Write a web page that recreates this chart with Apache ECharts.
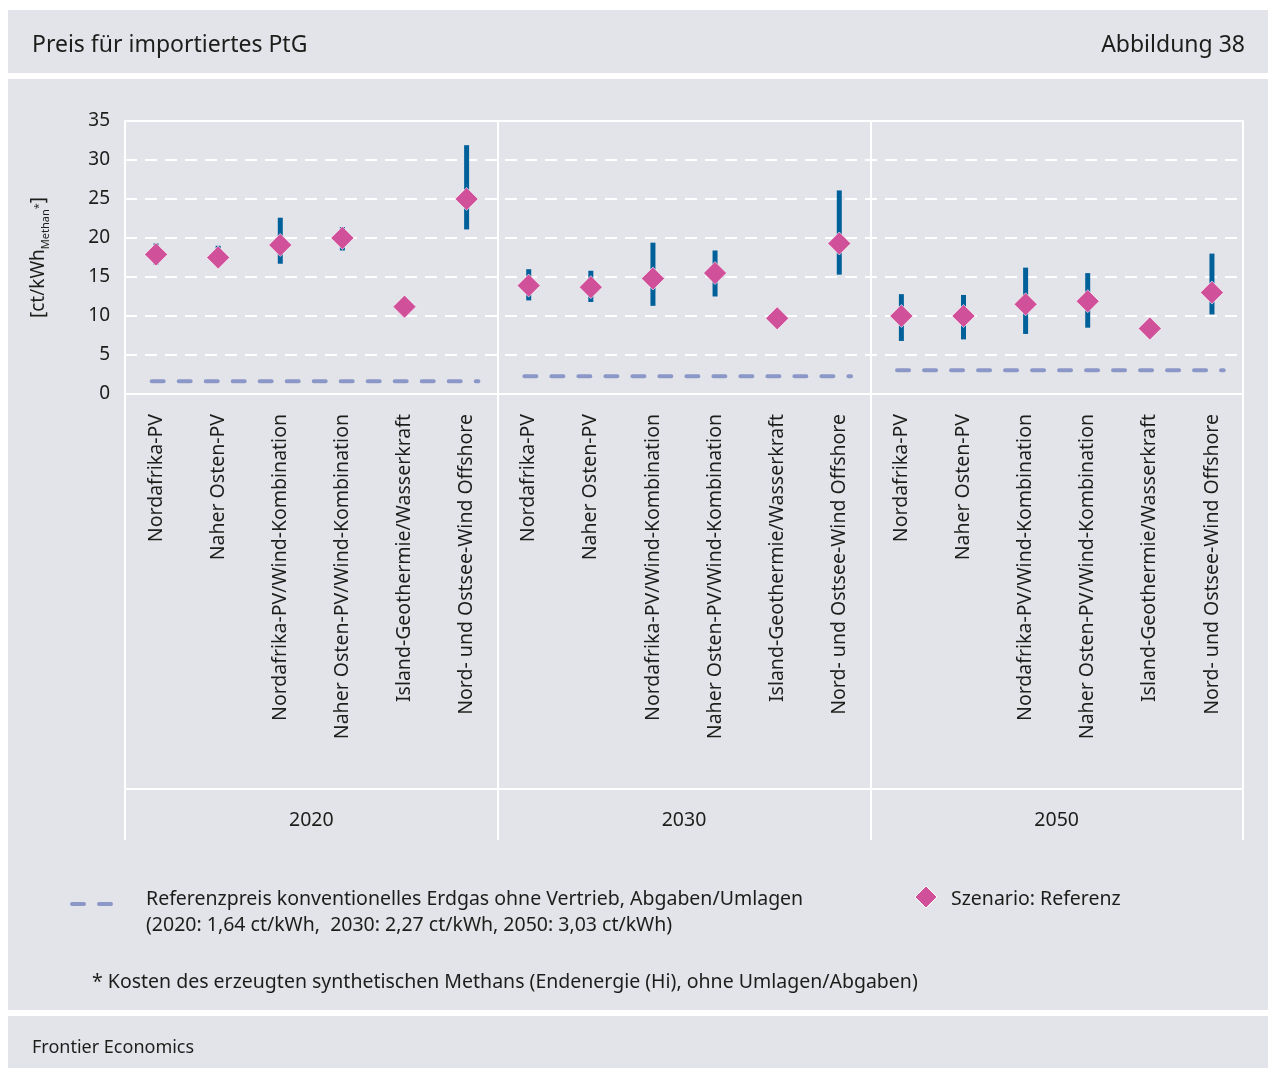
<!DOCTYPE html>
<html>
<head>
<meta charset="utf-8">
<script src="https://cdn.jsdelivr.net/npm/echarts@6/dist/echarts.min.js"></script>
<style>
  html, body { margin: 0; padding: 0; background: #ffffff; }
  #chart { width: 1269px; height: 1068px; }
</style>
</head>
<body>
<div id="chart"></div>
<script>
// Technologies (per year group) and years
const techs = [
  'Nordafrika-PV',
  'Naher Osten-PV',
  'Nordafrika-PV/Wind-Kombination',
  'Naher Osten-PV/Wind-Kombination',
  'Island-Geothermie/Wasserkraft',
  'Nord- und Ostsee-Wind Offshore'
];
const years = ['2020', '2030', '2050'];

// Scenario "Referenz" price [ct/kWh] and range (low / high)
const price2020 = [17.9, 17.5, 19.1, 20.0, 11.2, 25.0];
const low2020   = [16.6, 16.6, 16.7, 18.4, 11.2, 21.1];
const high2020  = [19.3, 19.0, 22.6, 21.4, 11.2, 31.9];

const price2030 = [13.9, 13.7, 14.8, 15.5, 9.7, 19.3];
const low2030   = [12.0, 11.8, 11.3, 12.5, 9.7, 15.3];
const high2030  = [16.0, 15.8, 19.4, 18.4, 9.7, 26.1];

const price2050 = [10.0, 10.0, 11.5, 11.9, 8.4, 13.0];
const low2050   = [6.8, 7.0, 7.7, 8.5, 8.4, 10.2];
const high2050  = [12.8, 12.7, 16.2, 15.5, 8.4, 18.0];

// Reference price of conventional natural gas per year
const refPrice = [1.64, 2.27, 3.03];

// y-axis ticks
const yMin = 0, yMax = 35, yStep = 5;

const FONT = 'Noto Sans';
const TXT = '#1d1d1b';
const PANEL = '#e3e4e9';

const prices = [price2020, price2030, price2050];
const lows = [low2020, low2030, low2050];
const highs = [high2020, high2030, high2050];

const categories = [];
const scatterData = [];
const rangeData = [];
years.forEach(function (y, g) {
  techs.forEach(function (t, i) {
    const idx = g * techs.length + i;
    categories.push(t);
    scatterData.push([idx, prices[g][i]]);
    rangeData.push([idx, lows[g][i], highs[g][i]]);
  });
});

const n = categories.length;
const refSeries = refPrice.map(function (v, g) {
  const base = g * techs.length;
  return {
    type: 'line',
    xAxisIndex: 2,
    yAxisIndex: 0,
    data: [[base + 0.43, v], [base + 5.69, v]],
    symbol: 'none',
    silent: true,
    z: 3,
    lineStyle: { color: '#8a97c7', width: 4, type: [12, 15], cap: 'round' }
  };
});

const chart = echarts.init(document.getElementById('chart'), null, { renderer: 'canvas' });

const option = {
  backgroundColor: '#ffffff',
  animation: false,
  textStyle: { fontFamily: FONT, color: TXT },
  graphic: [
    { type: 'rect', z: -10, shape: { x: 8, y: 10, width: 1260, height: 63 }, style: { fill: PANEL } },
    { type: 'rect', z: -10, shape: { x: 8, y: 79, width: 1260, height: 931 }, style: { fill: PANEL } },
    { type: 'rect', z: -10, shape: { x: 8, y: 1016, width: 1260, height: 52 }, style: { fill: PANEL } },
    { type: 'text', x: 32, y: 34, style: { text: 'Preis für importiertes PtG', font: '23px "Noto Sans"', fill: TXT } },
    { type: 'text', x: 1245, y: 34, style: { text: 'Abbildung 38', font: '23px "Noto Sans"', fill: TXT, align: 'right' } },
    // legend: reference price line
    { type: 'line', shape: { x1: 72, y1: 904, x2: 116, y2: 904 },
      style: { stroke: '#8a97c7', lineWidth: 4, lineDash: [12, 15], lineCap: 'round' } },
    { type: 'text', x: 146, y: 886, style: {
        text: 'Referenzpreis konventionelles Erdgas ohne Vertrieb, Abgaben/Umlagen\n(2020: 1,64 ct/kWh,  2030: 2,27 ct/kWh, 2050: 3,03 ct/kWh)',
        font: '19.5px "Noto Sans"', lineHeight: 26, fill: TXT } },
    // legend: scenario marker
    { type: 'polygon', shape: { points: [[926, 886], [937, 897], [926, 908], [915, 897]] },
      style: { fill: '#d0509a', stroke: '#ffffff', lineWidth: 1 } },
    { type: 'text', x: 951, y: 889, style: { text: 'Szenario: Referenz', font: '19.5px "Noto Sans"', fill: TXT } },
    { type: 'text', x: 92, y: 972, style: {
        text: '* Kosten des erzeugten synthetischen Methans (Endenergie (Hi), ohne Umlagen/Abgaben)',
        font: '19.5px "Noto Sans"', fill: TXT } },
    { type: 'text', x: 32, y: 1039, style: { text: 'Frontier Economics', font: '18px "Noto Sans"', fill: TXT } }
  ],
  grid: {
    left: 125, top: 121, width: 1118, height: 273,
    show: true, backgroundColor: 'transparent', borderColor: '#ffffff', borderWidth: 2
  },
  xAxis: [
    {
      type: 'category',
      data: categories,
      boundaryGap: true,
      axisLine: { show: true, lineStyle: { color: '#ffffff', width: 2 } },
      axisTick: {
        show: true, inside: false, length: 395,
        interval: function (idx) { return idx % techs.length === 0; },
        lineStyle: { color: '#ffffff', width: 2 }
      },
      axisLabel: {
        interval: 0, rotate: 90, margin: 20,
        fontFamily: FONT, fontSize: 19.5, color: TXT
      },
      splitLine: { show: false }
    },
    {
      type: 'category',
      data: years,
      position: 'bottom',
      offset: 395,
      boundaryGap: true,
      axisLine: { show: true, lineStyle: { color: '#ffffff', width: 2 } },
      axisTick: { show: true, length: 51, lineStyle: { color: '#ffffff', width: 2 } },
      axisLabel: { margin: 21, fontFamily: FONT, fontSize: 19.5, color: TXT },
      splitLine: { show: true, lineStyle: { color: '#ffffff', width: 2 } }
    },
    {
      type: 'value', min: 0, max: n, show: false
    }
  ],
  yAxis: [
    {
      type: 'value',
      min: yMin, max: yMax, interval: yStep,
      axisLine: { show: false },
      axisTick: { show: false },
      axisLabel: { margin: 15, fontFamily: FONT, fontSize: 19, color: TXT },
      splitLine: { show: true, lineStyle: { color: '#ffffff', width: 2, type: [12, 8] } },
      name: '{a|[ct/kWh}{s|Methan}{t|*}{a|]}',
      nameLocation: 'middle',
      nameRotate: 90,
      nameGap: 74,
      nameTextStyle: {
        rich: {
          a: { fontFamily: FONT, fontSize: 19, color: TXT, lineHeight: 24 },
          s: { fontFamily: FONT, fontSize: 11, color: TXT, verticalAlign: 'bottom', lineHeight: 11 },
          t: { fontFamily: FONT, fontSize: 11, color: TXT, verticalAlign: 'bottom', lineHeight: 11, padding: [0, 0, 7, 0] }
        }
      }
    }
  ],
  series: refSeries.concat([
    {
      type: 'custom',
      name: 'Bandbreite',
      xAxisIndex: 0,
      yAxisIndex: 0,
      z: 4,
      data: rangeData,
      encode: { x: 0, y: [1, 2] },
      renderItem: function (params, api) {
        const x = api.value(0);
        const lo = api.coord([x, api.value(1)]);
        const hi = api.coord([x, api.value(2)]);
        return {
          type: 'line',
          shape: { x1: lo[0], y1: lo[1], x2: hi[0], y2: hi[1] },
          style: { stroke: '#00609a', lineWidth: 5 }
        };
      }
    },
    {
      type: 'scatter',
      name: 'Szenario: Referenz',
      xAxisIndex: 0,
      yAxisIndex: 0,
      z: 5,
      symbol: 'diamond',
      symbolSize: [23, 23],
      data: scatterData,
      itemStyle: { color: '#d0509a', borderColor: 'rgba(255,255,255,0.6)', borderWidth: 1, opacity: 1 }
    }
  ])
};

chart.setOption(option);
</script>
</body>
</html>
